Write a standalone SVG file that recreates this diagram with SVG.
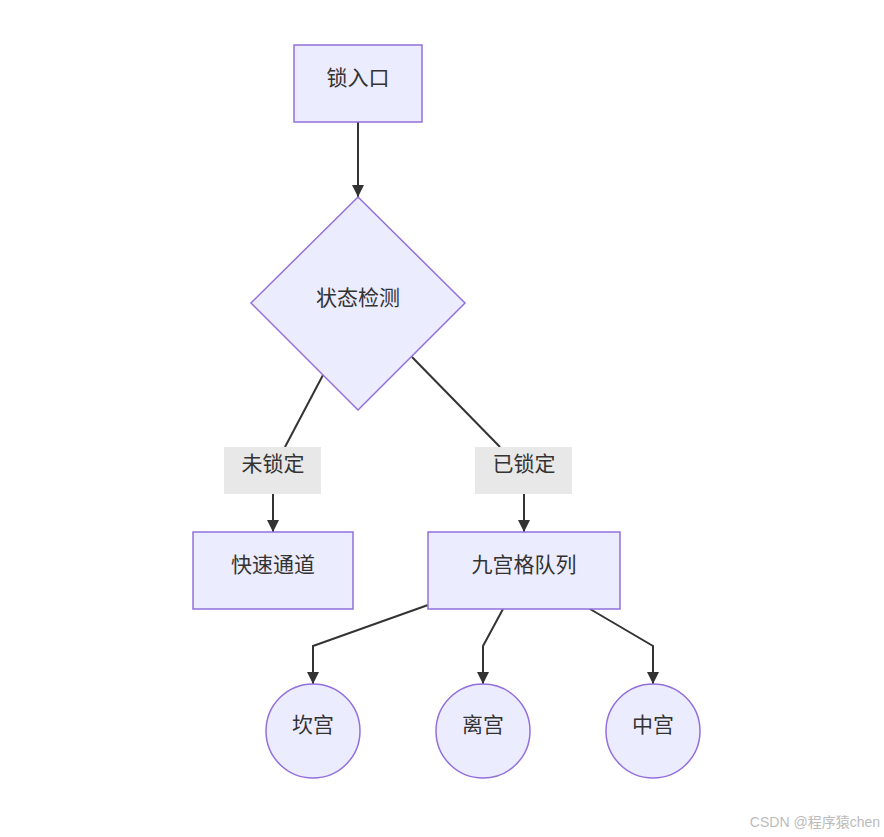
<svg xmlns="http://www.w3.org/2000/svg" width="884" height="837" viewBox="0 0 884 837">
<style>
.n{fill:#ECECFF;stroke:#9370DB;stroke-width:1.5}
.t{font-family:"Noto Sans CJK SC","Liberation Sans",sans-serif;font-size:21px;fill:#333;text-anchor:middle;dominant-baseline:central}
.e{fill:none;stroke:#333;stroke-width:2}
.lb{fill:#e8e8e8}
.wm{font-family:"Liberation Sans","Noto Sans CJK SC",sans-serif;font-size:14px;fill:#bbb;text-anchor:end}
</style>
<defs>
<marker id="ah" viewBox="0 0 10 10" refX="10" refY="5" markerWidth="12" markerHeight="12" markerUnits="userSpaceOnUse" orient="auto">
<path d="M0,0L10,5L0,10z" fill="#333"/>
</marker>
</defs>
<rect width="884" height="837" fill="#fff"/>
<g id="edges">
<path class="e" d="M358,122L358,197" marker-end="url(#ah)"/>
<path class="e" d="M323,375L285,447"/>
<path class="e" d="M273,494L273,532" marker-end="url(#ah)"/>
<path class="e" d="M412,357L500,447"/>
<path class="e" d="M524,494L524,532" marker-end="url(#ah)"/>
<path class="e" d="M428,605L313,646L313,684" marker-end="url(#ah)"/>
<path class="e" d="M503,609L483,646L483,684" marker-end="url(#ah)"/>
<path class="e" d="M590,609L653,646L653,684" marker-end="url(#ah)"/>
</g>
<g id="label-unlocked">
<rect class="lb" x="224" y="447" width="97" height="47"/>
<text class="t" x="273" y="462">未锁定</text>
</g>
<g id="label-locked">
<rect class="lb" x="475" y="447" width="97" height="47"/>
<text class="t" x="524" y="462">已锁定</text>
</g>
<g id="node-entry">
<rect class="n" x="294" y="45" width="128" height="77"/>
<text class="t" x="358" y="76">锁入口</text>
</g>
<g id="node-check">
<polygon class="n" points="358,197 465,303 358,410 251,303"/>
<text class="t" x="358" y="296">状态检测</text>
</g>
<g id="node-fast">
<rect class="n" x="193" y="532" width="160" height="77"/>
<text class="t" x="273" y="563">快速通道</text>
</g>
<g id="node-queue">
<rect class="n" x="428" y="532" width="192" height="77"/>
<text class="t" x="524" y="563">九宫格队列</text>
</g>
<g id="node-kan">
<circle class="n" cx="313" cy="731" r="47"/>
<text class="t" x="313" y="723">坎宫</text>
</g>
<g id="node-li">
<circle class="n" cx="483" cy="731" r="47"/>
<text class="t" x="483" y="723">离宫</text>
</g>
<g id="node-zhong">
<circle class="n" cx="653" cy="731" r="47"/>
<text class="t" x="653" y="723">中宫</text>
</g>
<text class="wm" x="880" y="827">CSDN @程序猿chen</text>
</svg>
